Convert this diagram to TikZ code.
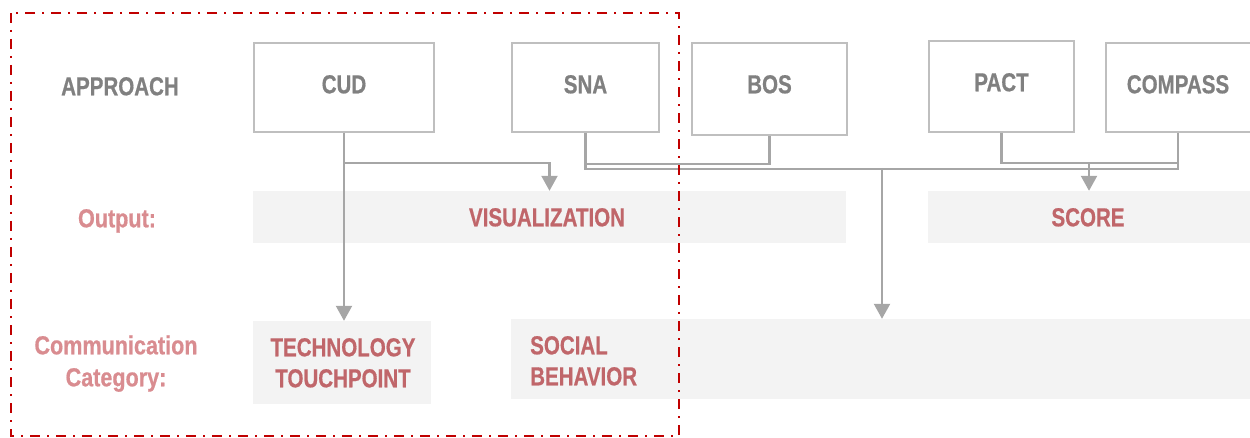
\documentclass[tikz,border=0pt]{standalone}
\usepackage{fontspec}
\setmainfont{Liberation Sans}[FakeStretch=0.79, FakeBold=0.6]
\newfontfamily\labfont{Liberation Sans}[FakeStretch=0.83, FakeBold=0.6]
\usetikzlibrary{arrows.meta}
\definecolor{txtgray}{RGB}{128,128,128}
\definecolor{boxgray}{RGB}{191,191,191}
\definecolor{linegray}{RGB}{166,166,166}
\definecolor{bandgray}{RGB}{243,243,243}
\definecolor{titlered}{RGB}{192,102,106}
\definecolor{labred}{RGB}{217,140,144}
\definecolor{framered}{RGB}{192,0,0}
\tikzset{
  txt/.style={inner sep=0pt, text height=18.6pt, text depth=0pt, font=\fontsize{26}{31}\selectfont\bfseries},
  apbox/.style={draw=boxgray, line width=2pt, fill=white, txt, text=txtgray},
  band/.style={fill=bandgray, draw=none, inner sep=0pt},
  title/.style={txt, text=titlered},
  lab/.style={txt, text=labred, font=\fontsize{26}{31}\selectfont\labfont\bfseries},
  conn/.style={draw=linegray, line width=2.2pt},
  arr/.style={conn, -{Triangle[width=16pt,length=15pt]}},
  frame/.style={draw=framered, line width=2pt, dash pattern=on 10pt off 7pt on 2pt off 7pt}
}
\begin{document}
\begin{tikzpicture}[x=1pt, y=-1pt]
\useasboundingbox (0,0) rectangle (1250,438);

% bands
\node[band, minimum width=593pt, minimum height=52pt] (vis) at (549.5,217) {};
\node[band, minimum width=322pt, minimum height=52pt] (score) at (1089,217) {};
\node[band, minimum width=178pt, minimum height=83pt] (tech) at (342,362.5) {};
\node[band, minimum width=739pt, minimum height=80pt] (social) at (880.5,359) {};

% band texts
\node[title] (visT) at (547,217) {VISUALIZATION};
\node[title] (scoreT) at (1088,217) {SCORE};
\node[title] (techA) at (343,347) {TECHNOLOGY};
\node[title] (techB) at (343,378) {TOUCHPOINT};
\node[title, anchor=west] (socA) at (530,345) {SOCIAL};
\node[title, anchor=west] (socB) at (530,376) {BEHAVIOR};

% row labels
\node[txt, text=txtgray] (approach) at (120,86) {APPROACH};
\node[lab] (output) at (117,218) {Output:};
\node[lab] (commA) at (116,345) {Communication};
\node[lab] (commB) at (116,377) {Category:};

% approach boxes
\node[apbox, text depth=7pt, minimum width=180pt, minimum height=89pt] (cud) at (344,87.5) {CUD};
\node[apbox, text depth=7pt, minimum width=147pt, minimum height=89pt] (sna) at (585.5,87.5) {SNA};
\node[apbox, text depth=10pt, minimum width=155pt, minimum height=92pt] (bos) at (769.5,89) {BOS};
\node[apbox, text depth=9pt, minimum width=145pt, minimum height=91pt] (pact) at (1001.5,86.5) {PACT};
\node[apbox, text depth=7pt, minimum width=145pt, minimum height=89pt] (compass) at (1178,87.5) {COMPASS};

% connectors
\draw[arr] (cud.south) -- (cud.south |- tech.north);
\draw[arr] (cud.south) -- ++(0,30) -| (vis.north);
\draw[conn] (bos.south) -- ++(0,28) -| (sna.south);
\draw[conn] (sna.south) -- ++(0,36) -| (compass.south);
\draw[conn] (pact.south) -- ++(0,30) -| (compass.south);
\draw[arr] (score.north |- pact.south) ++(0,30) -- (score.north);
\coordinate (sj) at (882,168);
\draw[arr] (sj) -- (sj |- social.north);

% highlight frame
\draw[frame] (11,13) rectangle (679,436);
\end{tikzpicture}
\end{document}
